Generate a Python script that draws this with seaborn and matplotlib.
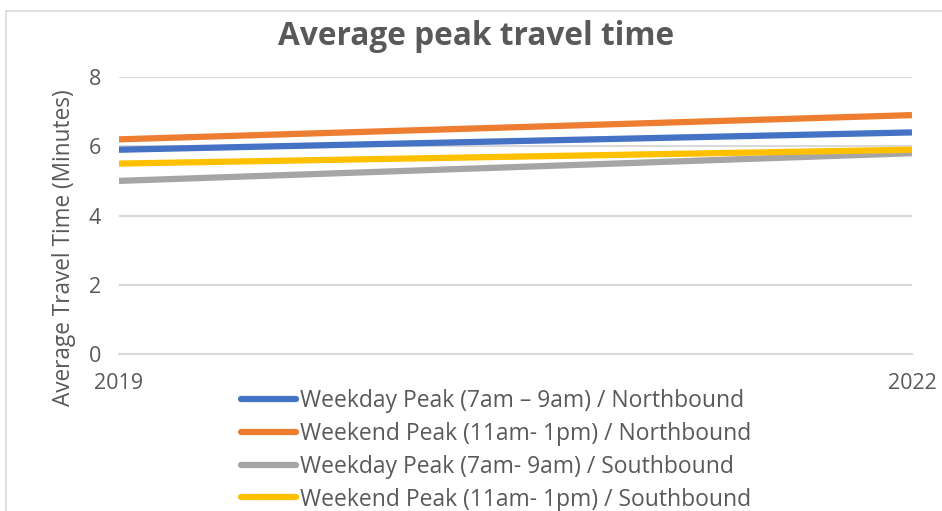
import numpy as np
import pandas as pd
import matplotlib.pyplot as plt
import seaborn as sns
from matplotlib.lines import Line2D

years = ["2019", "2022"]
series = [
    "Weekday Peak (7am \u2013 9am) / Northbound",
    "Weekend Peak (11am- 1pm) / Northbound",
    "Weekday Peak (7am- 9am) / Southbound",
    "Weekend Peak (11am- 1pm) / Southbound",
]
weekday_north = [5.9, 6.4]
weekend_north = [6.2, 6.9]
weekday_south = [5.0, 5.8]
weekend_south = [5.5, 5.9]
colors = ["#4472C4", "#ED7D31", "#A5A5A5", "#FFC000"]

rows = []
for name, vals in zip(series, [weekday_north, weekend_north, weekday_south, weekend_south]):
    for i, v in enumerate(vals):
        rows.append({"pos": i, "Series": name, "Minutes": v})
df = pd.DataFrame(rows)

sns.set_theme(style="white")
plt.rcParams['font.family'] = ['Open Sans', 'DejaVu Sans']
grey = "#595959"

fig = plt.figure(figsize=(9.42, 5.11), dpi=100)
ax = fig.add_axes([0.1263, 0.3072, 0.8418, 0.5421])

sns.lineplot(data=df, x="pos", y="Minutes", hue="Series", palette=colors,
             linewidth=4.5, ax=ax, legend=True, solid_capstyle="butt")

ax.set_xlim(0, 1)
ax.set_ylim(0, 8)
ax.set_yticks([0, 2, 4, 6, 8])
ax.set_xticks([0, 1])
ax.set_xticklabels(years)
ax.tick_params(axis="y", length=0, labelsize=15.5, labelcolor=grey, pad=13)
ax.tick_params(axis="x", length=5, width=1, color="#D9D9D9", labelsize=15.5,
               labelcolor=grey, pad=9, direction="out")
ax.yaxis.grid(True, color="#D9D9D9", linewidth=1.5)
ax.set_axisbelow(True)
for s in ["top", "right", "left"]:
    ax.spines[s].set_visible(False)
ax.spines["bottom"].set_color("#D9D9D9")
ax.spines["bottom"].set_linewidth(1.5)
ax.set_xlabel("")
ax.set_ylabel("")

fig.text(0.068, 0.515, "Average Travel Time (Minutes)", rotation=90,
         ha="center", va="center", fontsize=16.3, color=grey)
fig.text(0.505, 0.928, "Average peak travel time", ha="center", va="center",
         fontsize=22.8, fontweight="bold", color=grey)

handles, labels = ax.get_legend_handles_labels()
leg = ax.legend(handles, labels, loc="upper left", bbox_to_anchor=(0.256, 0.238),
                bbox_transform=fig.transFigure, frameon=False, fontsize=16.5,
                handlelength=2.4, handletextpad=0.15, labelspacing=0.38,
                borderaxespad=0, borderpad=0)
for t in leg.get_texts():
    t.set_color(grey)
for l in leg.get_lines():
    l.set_linewidth(4.5)
    l.set_solid_capstyle("round")

# outer chart frame (left and top edges visible)
fig.add_artist(Line2D([0.006, 0.006], [0, 0.978], transform=fig.transFigure,
                      color="#D9D9D9", linewidth=1.2))
fig.add_artist(Line2D([0.006, 1.0], [0.978, 0.978], transform=fig.transFigure,
                      color="#D9D9D9", linewidth=1.2))

fig.savefig("out.png", dpi=100)
